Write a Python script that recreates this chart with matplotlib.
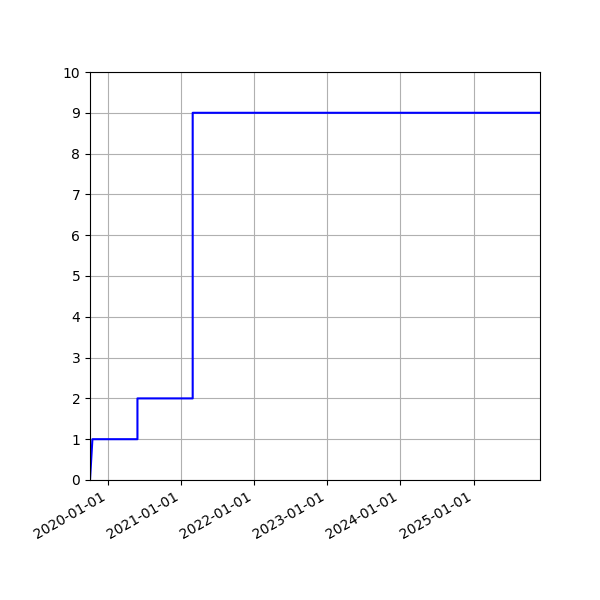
import matplotlib
matplotlib.use("Agg")
import matplotlib.pyplot as plt
import matplotlib.dates as mdates
import numpy as np

dates = ["2019-10-04", "2019-10-16", "2020-05-28", "2020-05-28", "2021-02-28", "2021-02-28", "2025-11-29"]
counts = [0, 1, 1, 2, 2, 9, 9]

x = np.array(dates, dtype="datetime64[D]")

fig, ax = plt.subplots(figsize=(6, 6), dpi=100)
ax.plot(x, counts, color="blue")
ax.set_xlim(x[0], x[-1])
ax.set_ylim(0, 10)
ax.set_yticks(range(0, 11))
ax.xaxis.set_major_locator(mdates.YearLocator())
ax.xaxis.set_major_formatter(mdates.DateFormatter("%Y-%m-%d"))
ax.grid(True)
fig.autofmt_xdate()
fig.subplots_adjust(left=0.15, right=0.9, top=0.88, bottom=0.2)
fig.savefig("out.png")
